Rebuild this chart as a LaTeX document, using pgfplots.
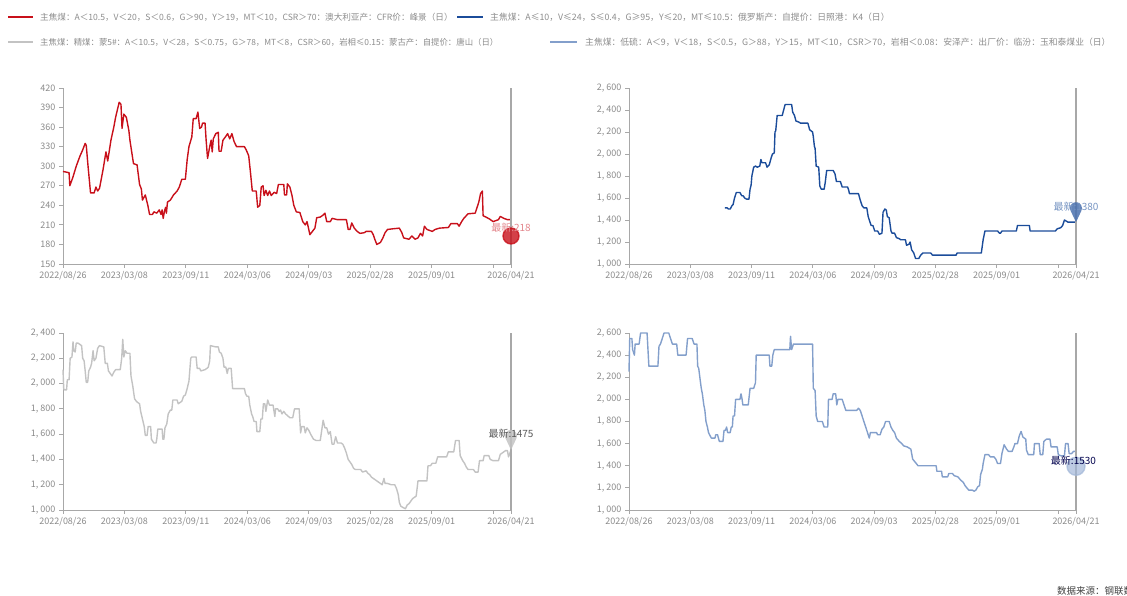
\documentclass[border=0pt]{standalone}
\usepackage{fontspec}
\setmainfont{Noto Sans CJK SC}
\usepackage{pgfplots}
\pgfplotsset{compat=1.18}
\definecolor{cred}{HTML}{C8101A}
\definecolor{cblue}{HTML}{1B4C9A}
\definecolor{cgray}{HTML}{C3C3C3}
\definecolor{csteel}{HTML}{839FCB}
\definecolor{axgray}{HTML}{A8A8A8}
\definecolor{ticktext}{HTML}{8A8A8A}
\definecolor{legtext}{HTML}{8C8C8C}
\pgfdeclareplotmark{pin}{%
  \pgfpathmoveto{\pgfpointorigin}%
  \pgfpathlineto{\pgfpoint{-5.2pt}{11pt}}%
  \pgfpatharc{210}{-30}{6pt}%
  \pgfpathclose
  \pgfusepathqfill}
\tikzset{latest/.style={font=\fontsize{10}{11}\selectfont}}
\pgfplotsset{
  panel/.style={
    scale only axis,
    axis x line=bottom, axis y line=left,
    axis line style={-, draw=axgray, line width=0.8pt},
    tick align=outside, major tick length=4pt,
    tick style={axgray, line width=0.8pt},
    every tick label/.append style={font=\fontsize{9}{10}\selectfont, text=ticktext},
    /pgf/number format/assume math mode=true,
    /pgf/number format/1000 sep={,\ },
    scaled y ticks=false,
    clip=false,
    every axis plot/.append style={line width=1.4pt, line join=round},
  },
  xleft/.style={xmin=178, xmax=1430,
    xtick={178,349.7,521.4,693.1,864.8,1036.5,1208.2,1379.9,1430},
    xticklabels={2022/08/26,2023/03/08,2023/09/11,2024/03/06,2024/09/03,2025/02/28,2025/09/01,,2026/04/21}},
  xright/.style={xmin=190, xmax=1427,
    xtick={190,359.6,529.1,698.7,868.3,1037.9,1207.4,1377,1427},
    xticklabels={2022/08/26,2023/03/08,2023/09/11,2024/03/06,2024/09/03,2025/02/28,2025/09/01,,2026/04/21}},
}
\begin{document}
\begin{tikzpicture}
\useasboundingbox (0pt,0pt) rectangle (1127pt,596pt);
% legend
\draw[cred, line width=2.6pt] (8pt,579pt) -- (33pt,579pt);
\node[anchor=west, inner sep=0, font=\fontsize{8.6}{10}\selectfont, text=legtext] at (40pt,579pt) {主焦煤：A＜10.5，V＜20，S＜0.6，G＞90，Y＞19，MT＜10，CSR＞70：澳大利亚产：CFR价：峰景（日）};
\draw[cblue, line width=2.6pt] (457pt,579pt) -- (483pt,579pt);
\node[anchor=west, inner sep=0, font=\fontsize{8.8}{10}\selectfont, text=legtext] at (490pt,579pt) {主焦煤：A≤10，V≤24，S≤0.4，G≥95，Y≤20，MT≤10.5：俄罗斯产：自提价：日照港：K4（日）};
\draw[cgray, line width=2.6pt] (8pt,554pt) -- (33pt,554pt);
\node[anchor=west, inner sep=0, font=\fontsize{8.4}{10}\selectfont, text=legtext] at (40pt,554pt) {主焦煤：精煤：蒙5\#：A＜10.5，V＜28，S＜0.75，G＞78，MT＜8，CSR＞60，岩相≤0.15：蒙古产：自提价：唐山（日）};
\draw[csteel, line width=2.6pt] (550pt,554pt) -- (577pt,554pt);
\node[anchor=west, inner sep=0, font=\fontsize{8.8}{10}\selectfont, text=legtext] at (585pt,554pt) {主焦煤：低硫：A＜9，V＜18，S＜0.5，G＞88，Y＞15，MT＜10，CSR＞70，岩相＜0.08：安泽产：出厂价：临汾：玉和泰煤业（日）};
\node[anchor=west, inner sep=0, font=\fontsize{9.5}{10}\selectfont, text=black!75] at (1057pt,5pt) {数据来源：钢联数据};

% ---------- top left ----------
\begin{axis}[panel, xleft, at={(63pt,332pt)}, anchor=south west, width=448pt, height=176pt,
  ymin=150, ymax=420, ytick={150,180,...,420}]
\addplot[cred] coordinates {
(178,292)(195,290)(197,270)(205,282)(215,300)(225,315)(233,325)(240,335)(243,332)(248,300)(255,259)(265,259)(270,268)(275,262)(280,266)(290,295)(298,322)(303,308)(312,340)(320,360)(325,375)(335,398)(340,395)(343,358)(348,380)(355,375)(362,355)(365,340)(375,304)(385,302)(392,272)(397,265)(400,248)(408,256)(415,240)(420,226)(428,226)(432,230)(440,228)(447,233)(452,226)(455,233)(458,220)(462,232)(465,237)(467,228)(470,245)(478,248)(487,256)(497,262)(503,268)(510,280)(520,280)(525,310)(530,330)(538,345)(542,373)(550,373)(555,383)(560,358)(565,360)(568,366)(575,366)(578,340)(582,312)(588,330)(592,340)(595,322)(598,342)(605,350)(612,352)(614,323)(620,323)(625,340)(632,345)(638,350)(644,342)(650,350)(656,338)(663,330)(685,330)(690,325)(697,316)(702,290)(707,262)(718,262)(722,237)(728,240)(732,268)(737,270)(740,255)(745,263)(750,255)(755,262)(760,255)(768,260)(775,258)(780,272)(795,272)(797,256)(803,256)(805,273)(812,268)(818,255)(823,240)(830,230)(840,229)(848,215)(855,210)(860,215)(868,195)(875,200)(882,205)(887,221)(897,222)(905,225)(910,228)(915,215)(925,215)(930,220)(945,218)(970,218)(975,203)(980,203)(985,213)(992,205)(1000,200)(1008,197)(1020,198)(1025,200)(1040,200)(1045,195)(1050,187)(1055,180)(1065,183)(1072,190)(1078,198)(1085,203)(1100,204)(1118,205)(1125,198)(1130,190)(1145,188)(1153,193)(1162,188)(1170,190)(1177,197)(1183,193)(1188,208)(1195,203)(1210,200)(1218,203)(1230,205)(1255,206)(1262,212)(1280,212)(1285,208)(1292,215)(1298,220)(1310,227)(1330,228)(1340,245)(1345,258)(1350,262)(1352,224)(1360,222)(1370,219)(1380,215)(1395,218)(1400,223)(1410,220)(1420,218)(1430,218)
};
\addplot[axgray, line width=1.2pt] coordinates {(1430,150)(1430,420)};
\addplot[only marks, color=cred, mark=*, mark size=8pt, opacity=0.8] coordinates {(1430,193)};
\coordinate (L1) at (axis cs:1430,205);
\end{axis}
\node[latest, text=cred!50] at (L1) {最新:218};

% ---------- top right ----------
\begin{axis}[panel, xright, at={(629pt,332pt)}, anchor=south west, width=447pt, height=176pt,
  ymin=1000, ymax=2600, ytick={1000,1200,...,2600}]
\addplot[cblue] coordinates {
(455,1510)(462,1510)(465,1500)(470,1500)(475,1530)(478,1540)(482,1600)(487,1650)(497,1650)(502,1620)(506,1620)(510,1600)(515,1590)(522,1590)(525,1680)(528,1720)(530,1800)(535,1880)(540,1890)(545,1880)(552,1890)(555,1950)(558,1920)(568,1920)(572,1880)(578,1900)(583,1960)(587,2000)(592,2010)(594,2200)(596,2210)(600,2350)(614,2350)(618,2400)(622,2450)(640,2450)(643,2380)(648,2350)(652,2300)(660,2290)(665,2280)(685,2280)(690,2220)(698,2200)(700,2160)(703,2070)(705,2050)(708,1890)(715,1880)(718,1710)(722,1680)(730,1680)(733,1740)(737,1850)(755,1850)(760,1820)(764,1750)(775,1750)(780,1700)(795,1700)(798,1670)(800,1640)(825,1640)(830,1580)(835,1530)(840,1510)(848,1510)(852,1430)(857,1380)(860,1350)(865,1350)(870,1300)(878,1300)(883,1270)(890,1280)(893,1470)(898,1500)(902,1490)(905,1430)(910,1420)(915,1300)(918,1280)(925,1280)(930,1240)(938,1230)(942,1220)(955,1220)(958,1170)(965,1180)(968,1200)(972,1130)(978,1100)(983,1050)(992,1050)(997,1080)(1003,1100)(1025,1100)(1030,1080)(1095,1080)(1098,1100)(1165,1100)(1170,1220)(1175,1300)(1210,1300)(1215,1280)(1218,1280)(1222,1300)(1262,1300)(1265,1350)(1298,1350)(1300,1300)(1370,1300)(1375,1320)(1385,1330)(1390,1350)(1395,1400)(1400,1390)(1405,1380)(1425,1380)
};
\addplot[axgray, line width=1.2pt] coordinates {(1427,1000)(1427,2600)};
\addplot[only marks, mark=pin, color=cblue!80, opacity=0.85] coordinates {(1427,1380)};
\coordinate (L2) at (axis cs:1427,1518);
\end{axis}
\node[latest, text=cblue!60] at (L2) {最新:1380};

% ---------- bottom left ----------
\begin{axis}[panel, xleft, at={(63pt,86pt)}, anchor=south west, width=448pt, height=177pt,
  ymin=1000, ymax=2400, ytick={1000,1200,...,2400}]
\addplot[cgray] coordinates {
(178,2110)(180,1960)(182,1950)(188,1950)(190,2030)(195,2030)(198,2200)(203,2210)(206,2330)(208,2260)(212,2250)(215,2320)(220,2320)(230,2300)(233,2200)(237,2180)(240,2100)(243,2010)(247,2010)(250,2100)(255,2130)(258,2160)(262,2260)(265,2180)(270,2200)(275,2280)(280,2300)(292,2290)(296,2160)(302,2160)(305,2100)(310,2080)(315,2060)(320,2090)(325,2110)(338,2110)(342,2200)(345,2350)(348,2210)(352,2260)(357,2240)(365,2240)(368,2060)(373,1980)(378,1880)(383,1860)(387,1850)(392,1840)(395,1780)(400,1720)(405,1660)(408,1590)(413,1590)(416,1660)(423,1660)(425,1560)(432,1530)(438,1530)(440,1560)(443,1640)(455,1640)(457,1560)(460,1560)(463,1650)(468,1680)(472,1760)(478,1790)(482,1790)(485,1870)(497,1870)(500,1840)(505,1850)(510,1860)(515,1900)(520,1910)(525,1960)(530,2020)(535,2200)(538,2210)(550,2210)(553,2120)(560,2120)(563,2100)(575,2110)(580,2120)(584,2130)(588,2180)(590,2300)(605,2290)(612,2290)(615,2250)(620,2240)(625,2200)(628,2130)(633,2130)(637,2080)(640,2120)(648,2120)(652,1960)(685,1960)(688,1920)(692,1900)(697,1900)(700,1830)(705,1760)(708,1740)(712,1700)(718,1700)(720,1620)(728,1620)(731,1720)(735,1720)(738,1840)(742,1840)(745,1780)(750,1870)(755,1830)(765,1830)(770,1740)(772,1800)(778,1800)(782,1780)(786,1790)(790,1760)(795,1780)(800,1760)(808,1740)(812,1730)(820,1730)(825,1800)(838,1800)(842,1610)(845,1660)(852,1660)(855,1610)(860,1650)(865,1630)(870,1600)(878,1560)(885,1550)(897,1550)(900,1610)(905,1710)(910,1650)(915,1650)(920,1600)(925,1620)(930,1520)(935,1520)(940,1580)(945,1530)(955,1530)(960,1520)(965,1490)(970,1450)(975,1400)(980,1380)(985,1360)(990,1330)(995,1320)(1010,1320)(1015,1300)(1025,1310)(1030,1290)(1035,1280)(1040,1260)(1045,1250)(1050,1240)(1055,1230)(1060,1220)(1065,1210)(1070,1200)(1075,1250)(1078,1210)(1085,1210)(1095,1200)(1105,1200)(1110,1170)(1115,1120)(1118,1060)(1122,1030)(1128,1020)(1135,1010)(1140,1040)(1145,1050)(1150,1070)(1155,1090)(1160,1100)(1165,1110)(1168,1180)(1170,1230)(1195,1230)(1198,1350)(1205,1350)(1210,1370)(1220,1370)(1225,1420)(1250,1420)(1255,1460)(1270,1460)(1275,1550)(1285,1550)(1288,1430)(1295,1390)(1300,1370)(1305,1340)(1310,1320)(1325,1320)(1330,1300)(1338,1300)(1342,1390)(1352,1390)(1355,1430)(1368,1430)(1372,1400)(1380,1390)(1395,1390)(1400,1440)(1410,1460)(1415,1470)(1420,1470)(1423,1420)(1427,1450)(1430,1475)
};
\addplot[axgray, line width=1.2pt] coordinates {(1430,1000)(1430,2400)};
\addplot[only marks, mark=pin, color=cgray, opacity=0.85] coordinates {(1430,1475)};
\coordinate (L3) at (axis cs:1430,1600);
\end{axis}
\node[latest, text=black!65] at (L3) {最新:1475};

% ---------- bottom right ----------
\begin{axis}[panel, xright, at={(629pt,86pt)}, anchor=south west, width=447pt, height=177pt,
  ymin=1000, ymax=2600, ytick={1000,1200,...,2600}]
\addplot[csteel] coordinates {
(190,2250)(192,2550)(198,2550)(200,2450)(205,2400)(207,2500)(218,2500)(222,2600)(240,2600)(245,2300)(270,2300)(273,2480)(277,2500)(282,2550)(287,2600)(300,2600)(305,2550)(310,2500)(322,2500)(325,2400)(348,2400)(352,2550)(365,2550)(370,2500)(378,2500)(380,2300)(383,2280)(386,2200)(390,2100)(393,2050)(397,1950)(400,1900)(403,1800)(407,1750)(410,1700)(413,1680)(418,1650)(428,1650)(430,1680)(435,1680)(440,1620)(450,1620)(453,1720)(457,1720)(460,1750)(463,1700)(470,1700)(473,1750)(476,1750)(478,1850)(482,1850)(485,2000)(497,2000)(500,2050)(503,2000)(505,1950)(520,1950)(525,2100)(535,2100)(540,2150)(542,2400)(578,2400)(580,2300)(585,2300)(588,2400)(592,2450)(635,2450)(637,2570)(640,2450)(645,2500)(698,2500)(700,2100)(705,2080)(708,1850)(712,1800)(725,1800)(730,1750)(740,1750)(742,2000)(752,2000)(755,2050)(762,2050)(765,1950)(768,2000)(780,2000)(785,1950)(790,1900)(820,1900)(825,1920)(830,1900)(835,1850)(840,1800)(845,1750)(850,1700)(855,1650)(858,1700)(875,1700)(878,1680)(885,1680)(890,1730)(895,1750)(900,1800)(910,1800)(915,1750)(920,1720)(925,1700)(930,1650)(938,1620)(945,1600)(950,1580)(960,1570)(970,1550)(975,1460)(985,1420)(990,1400)(1040,1400)(1042,1350)(1055,1350)(1057,1300)(1072,1300)(1075,1330)(1085,1330)(1090,1310)(1100,1300)(1108,1270)(1115,1250)(1120,1220)(1125,1200)(1130,1180)(1140,1180)(1145,1170)(1150,1180)(1155,1210)(1160,1220)(1163,1320)(1168,1370)(1170,1420)(1175,1500)(1185,1500)(1190,1480)(1200,1480)(1205,1460)(1210,1420)(1218,1420)(1222,1510)(1228,1590)(1235,1550)(1240,1530)(1250,1530)(1255,1570)(1258,1600)(1265,1600)(1270,1670)(1275,1710)(1280,1660)(1288,1640)(1290,1540)(1295,1500)(1310,1500)(1312,1600)(1325,1600)(1328,1500)(1335,1500)(1338,1620)(1345,1640)(1355,1640)(1358,1570)(1375,1570)(1378,1500)(1385,1490)(1395,1490)(1398,1600)(1405,1600)(1408,1510)(1415,1510)(1420,1530)(1425,1530)
};
\addplot[axgray, line width=1.2pt] coordinates {(1427,1000)(1427,2600)};
\addplot[only marks, mark=*, mark size=9pt, color=csteel!75, opacity=0.7] coordinates {(1427,1395)};
\coordinate (L4) at (axis cs:1420,1450);
\end{axis}
\node[latest, text=black!70!blue] at (L4) {最新:1530};
\end{tikzpicture}
\end{document}
